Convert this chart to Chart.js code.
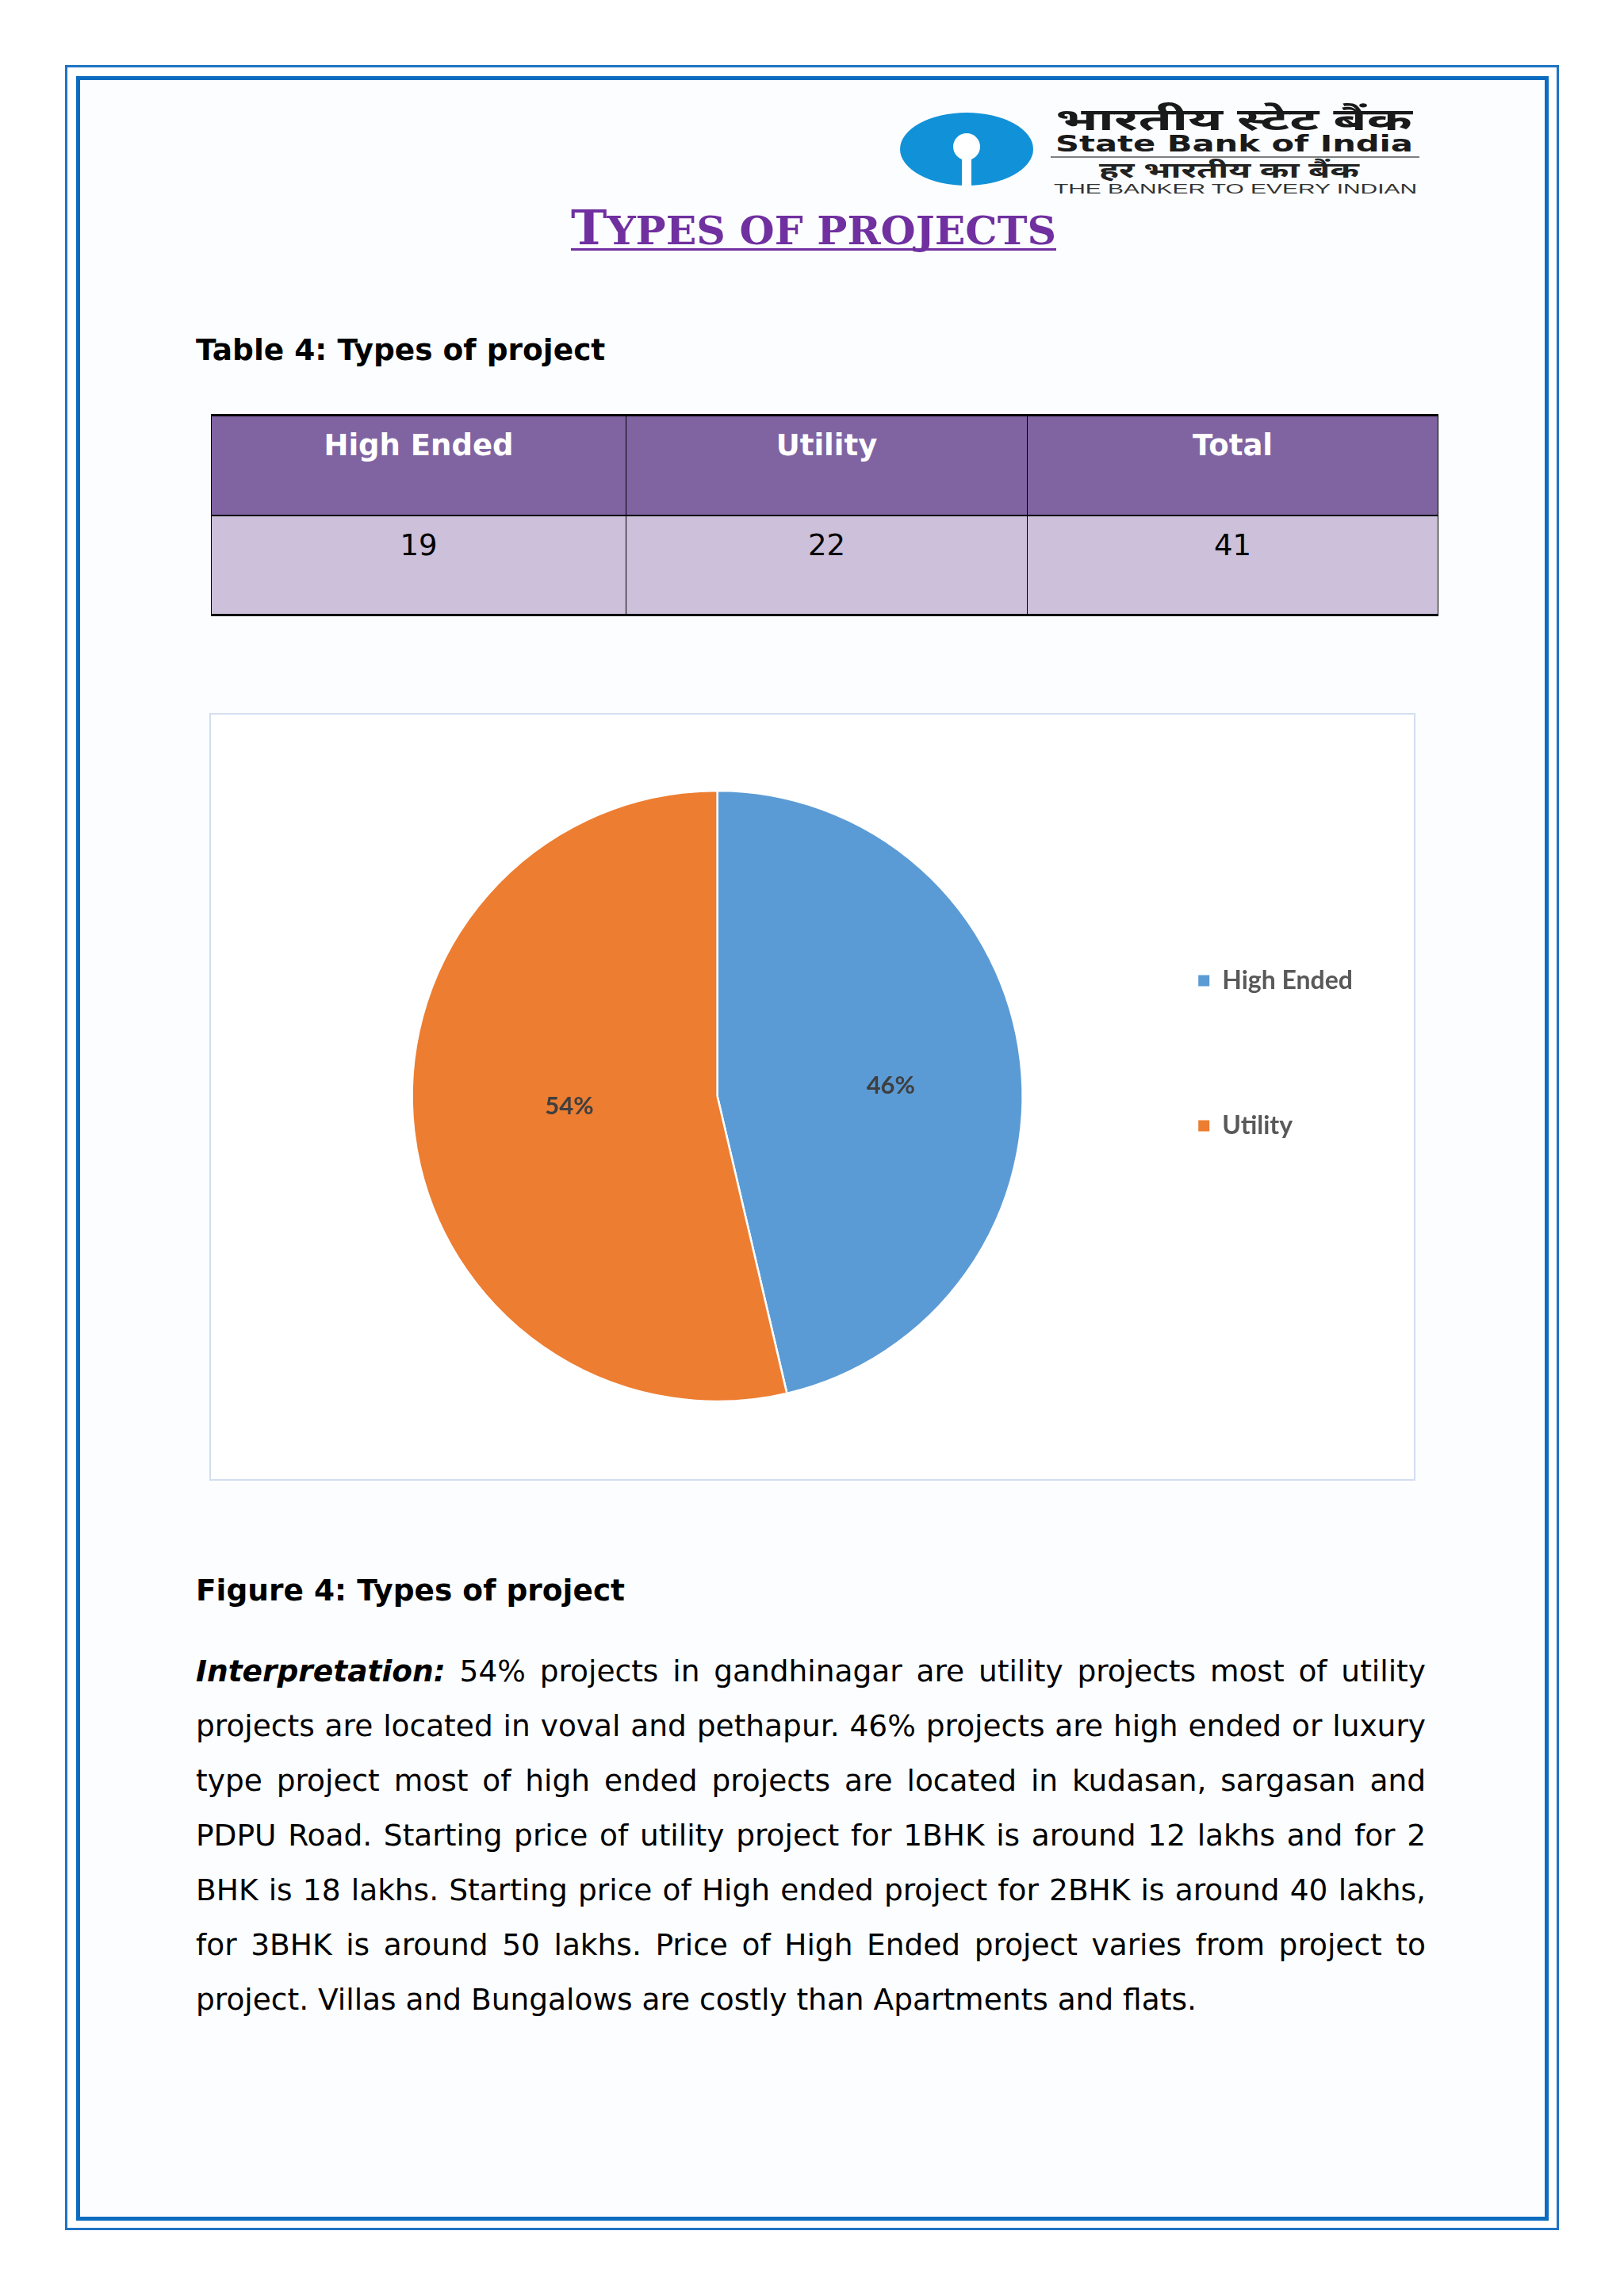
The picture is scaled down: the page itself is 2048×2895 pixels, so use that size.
<!DOCTYPE html>
<html>
<head>
<meta charset="utf-8">
<script src="https://cdn.jsdelivr.net/npm/chart.js@4.4.1/dist/chart.umd.min.js"></script>
<style>
  html, body { margin: 0; padding: 0; background: #fff; }
  body { width: 2048px; height: 2895px; position: relative; overflow: hidden; font-family: "DejaVu Sans", Verdana, sans-serif; color: #000; }
  .outer { position: absolute; left: 82px; top: 82px; width: 1884px; height: 2730px; border: 3px solid #1f74c4; box-sizing: border-box; }
  .inner { position: absolute; left: 96px; top: 96px; width: 1857px; height: 2704px; border: 5px solid #0c6cbf; box-sizing: border-box; background: #fcfdfe; }
  .caption { position: absolute; left: 247px; font-weight: bold; font-size: 37.5px; line-height: 37.5px; white-space: nowrap; }
  table.types { position: absolute; left: 266px; top: 522px; width: 1547px; border-collapse: collapse; table-layout: fixed; font-size: 37px; }
  table.types td, table.types th { height: 126px; padding: 18px 0 0 0; box-sizing: border-box; vertical-align: top; text-align: center; line-height: 37px; border-left: 1px solid #000; border-right: 1px solid #000; }
  table.types th { background: #8064a2; color: #fff; font-weight: bold; border-top: 3px solid #000; border-bottom: 2px solid #000; }
  table.types td { background: #ccc0da; font-weight: normal; border-bottom: 3px solid #000; }
  .frame { position: absolute; left: 264px; top: 899px; width: 1521px; height: 968px; border: 2px solid #d3def0; box-sizing: border-box; background: #fff; }
  .para { position: absolute; left: 247px; top: 2073px; width: 1551px; font-size: 37.5px; line-height: 69px; }
  .para div { text-align: justify; text-align-last: justify; }
  .para div.last { text-align-last: left; }
</style>
</head>
<body>
<div class="outer"></div>
<div class="inner"></div>

<svg width="2048" height="360" style="position:absolute;left:0;top:0">
  <ellipse cx="1219" cy="188" rx="84" ry="46" fill="#1192d8"/>
  <circle cx="1219" cy="185" r="17" fill="#fff"/>
  <rect x="1213" y="186" width="12" height="49" fill="#fff"/>
  <text x="1331" y="164" font-family="Noto Sans Devanagari, Lohit Devanagari, Noto Sans, sans-serif" font-weight="bold" font-size="38" fill="#1a1a1a" textLength="450" lengthAdjust="spacingAndGlyphs">भारतीय स्टेट बैंक</text>
  <text x="1331" y="191" font-family="DejaVu Sans" font-weight="bold" font-size="29" fill="#1a1a1a" textLength="451" lengthAdjust="spacingAndGlyphs">State Bank of India</text>
  <line x1="1325" y1="198" x2="1790" y2="198" stroke="#555" stroke-width="1.5"/>
  <text x="1386" y="224" font-family="Noto Sans Devanagari, Lohit Devanagari, Noto Sans, sans-serif" font-weight="bold" font-size="27" fill="#222" textLength="328" lengthAdjust="spacingAndGlyphs">हर भारतीय का बैंक</text>
  <text x="1329" y="244" font-family="Liberation Sans" font-size="17" fill="#333" textLength="458" lengthAdjust="spacingAndGlyphs">THE BANKER TO EVERY INDIAN</text>
  <text x="720" y="308" font-family="DejaVu Serif" font-weight="bold" fill="#7030a0" textLength="612" lengthAdjust="spacingAndGlyphs"><tspan font-size="59">T</tspan><tspan font-size="49">YPES OF PROJECTS</tspan></text>
  <rect x="720" y="313" width="612" height="3" fill="#7030a0"/>
</svg>

<div class="caption" style="top:423px">Table 4: Types of project</div>

<table class="types" id="typesTable">
  <colgroup><col style="width:523px"><col style="width:506px"><col style="width:518px"></colgroup>
  <tr id="headRow"></tr>
  <tr id="valueRow"></tr>
</table>

<div class="frame"><canvas id="pieChart" width="1517" height="964"></canvas></div>

<div class="caption" style="top:1987px">Figure 4: Types of project</div>

<div class="para">
  <div><b><i>Interpretation:</i></b> 54% projects in gandhinagar are utility projects most of utility</div>
  <div>projects are located in voval and pethapur. 46% projects are high ended or luxury</div>
  <div>type project most of high ended projects are located in kudasan, sargasan and</div>
  <div>PDPU Road. Starting price of utility project for 1BHK is around 12 lakhs and for 2</div>
  <div>BHK is 18 lakhs. Starting price of High ended project for 2BHK is around 40 lakhs,</div>
  <div>for 3BHK is around 50 lakhs. Price of High Ended project varies from project to</div>
  <div class="last">project. Villas and Bungalows are costly than Apartments and flats.</div>
</div>

<script>
// data
const projectTypes = ['High Ended', 'Utility'];
const projectCounts = [19, 22];
const sliceColors = ['#5b9bd5', '#ed7d31'];

const totalProjects = projectCounts.reduce((a, b) => a + b, 0);

// Table 4
const headRow = document.getElementById('headRow');
const valueRow = document.getElementById('valueRow');
projectTypes.concat(['Total']).forEach(name => {
    const th = document.createElement('th');
    th.textContent = name;
    headRow.appendChild(th);
});
projectCounts.concat([totalProjects]).forEach(v => {
    const td = document.createElement('td');
    td.textContent = v;
    valueRow.appendChild(td);
});

// percent labels inside the slices (placed on an ellipse around the centre, like Excel does)
const pctLabels = {
    id: 'pctLabels',
    afterDatasetsDraw(chart) {
        const ctx = chart.ctx;
        const meta = chart.getDatasetMeta(0);
        ctx.save();
        ctx.font = 'bold 31px Lato';
        ctx.fillStyle = '#3f3f3f';
        ctx.textAlign = 'center';
        ctx.textBaseline = 'middle';
        meta.data.forEach((arc, i) => {
            const p = arc.getProps(['x', 'y', 'startAngle', 'endAngle', 'outerRadius'], true);
            const mid = (p.startAngle + p.endAngle) / 2;
            const pct = Math.round(projectCounts[i] / totalProjects * 100) + '%';
            const lx = p.x + Math.cos(mid) * p.outerRadius * 0.53 + 16;
            const ly = p.y + Math.sin(mid) * p.outerRadius * 0.3;
            ctx.fillText(pct, lx, ly);
        });
        ctx.restore();
    }
};

const pieChart = new Chart(document.getElementById('pieChart'), {
    type: 'pie',
    data: {
        labels: projectTypes,
        datasets: [{
            data: projectCounts,
            backgroundColor: sliceColors,
            borderColor: '#ffffff',
            borderWidth: 2.5,
            radius: 385
        }]
    },
    options: {
        responsive: false,
        animation: false,
        layout: { padding: { left: 183, right: 67, top: 0, bottom: 2 } },
        plugins: {
            tooltip: { enabled: false },
            legend: {
                position: 'right',
                align: 'start',
                title: { display: true, text: '', font: { size: 12 }, padding: { top: 154, bottom: 0 } },
                labels: {
                    boxWidth: 14,
                    boxHeight: 14,
                    padding: 151,
                    color: '#595959',
                    font: { family: 'Lato', weight: 'bold', size: 32 },
                    generateLabels: chart => Chart.overrides.pie.plugins.legend.labels.generateLabels(chart)
                        .map(item => Object.assign(item, { lineWidth: 0 }))
                }
            }
        }
    },
    plugins: [pctLabels]
});
</script>
</body>
</html>
